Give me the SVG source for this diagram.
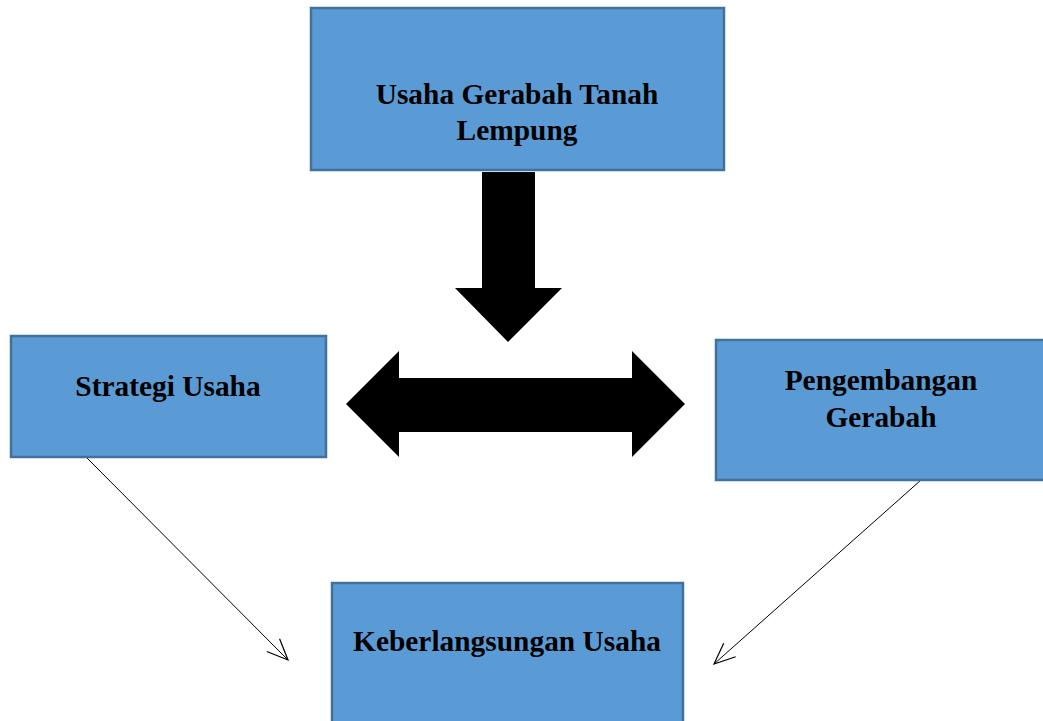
<svg xmlns="http://www.w3.org/2000/svg" width="1043" height="721" viewBox="0 0 1043 721">
<style>
.box{fill:#5B9BD5;stroke:#41719C;stroke-width:2.5}
.lbl{font-family:"Liberation Serif","Times New Roman",serif;font-weight:bold;font-size:29.4px;fill:#000;text-anchor:middle}
.thin{stroke:#000;stroke-width:1;fill:none}
</style>
<defs>
<marker id="open" markerUnits="userSpaceOnUse" markerWidth="26" markerHeight="26" viewBox="0 0 26 26" refX="22" refY="13" orient="auto">
<path d="M1,4 L22,13 L1,22" fill="none" stroke="#000" stroke-width="1.2"/>
</marker>
</defs>
<rect width="1043" height="721" fill="#fff"/>
<g id="connectors">
<polygon points="482,172 535,172 535,288 562,288 508,342 455,288 482,288" fill="#000"/>
<polygon points="346,404 399,351 399,378 632,378 632,351 685,404 632,457 632,432 399,432 399,457" fill="#000"/>
<line class="thin" x1="86" y1="457" x2="288" y2="660" marker-end="url(#open)"/>
<line class="thin" x1="921" y1="480" x2="714" y2="664" marker-end="url(#open)"/>
</g>
<g id="node-top">
<rect class="box" x="311" y="8" width="413" height="162"/>
<text class="lbl" x="517" y="104">Usaha Gerabah Tanah</text>
<text class="lbl" x="517" y="140">Lempung</text>
</g>
<g id="node-left">
<rect class="box" x="11" y="336" width="315" height="121"/>
<text class="lbl" x="168" y="396">Strategi Usaha</text>
</g>
<g id="node-right">
<rect class="box" x="716" y="340" width="340" height="140"/>
<text class="lbl" x="881" y="390">Pengembangan</text>
<text class="lbl" x="881" y="427">Gerabah</text>
</g>
<g id="node-bottom">
<rect class="box" x="332" y="583" width="351" height="150"/>
<text class="lbl" x="507" y="651">Keberlangsungan Usaha</text>
</g>
</svg>
